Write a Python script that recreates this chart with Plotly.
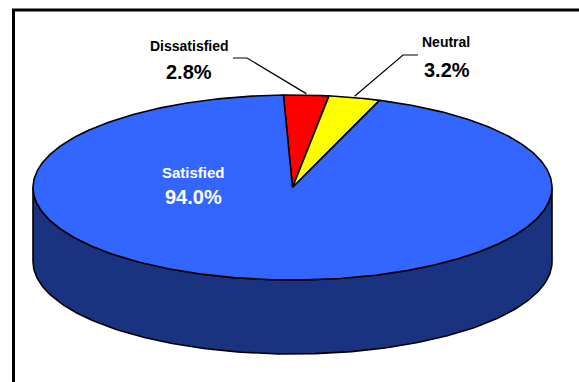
import numpy as np
import plotly.graph_objects as go

# Survey answers and their shares (percent)
categories = ["Dissatisfied", "Neutral", "Satisfied"]
shares = [2.8, 3.2, 94.0]
value_labels = ["2.8%", "3.2%", "94.0%"]

# Fill colours: top face and darker side wall of each slice
top_colors = ["#FF0000", "#FFFF00", "#3366FF"]
side_colors = ["#800000", "#808000", "#1A3380"]

# Pixel geometry of the tilted disc (axes are mapped 1:1 to pixels)
W, H = 579, 382
CX, CY = 292.5, 187.5
RX, RY = 259.5, 92.5
DEPTH = 74
START_DEG = -2.0  # first slice angle, clockwise from 12 o'clock

# Label placement: name, value, and optional leader line elbow/end
label_pos = {
    "Dissatisfied": dict(name=(189, 46), value=(189, 72), elbow=(247, 58), end=(233, 58), color="black"),
    "Neutral": dict(name=(446, 42), value=(447, 70), elbow=(403, 55), end=(418, 55), color="black"),
    "Satisfied": dict(name=(193, 172), value=(193, 197), elbow=None, end=None, color="white"),
}


def rim(theta_deg, drop=0.0):
    t = np.radians(theta_deg)
    return CX + RX * np.sin(t), CY - RY * np.cos(t) + drop


fig = go.Figure()

# slice angle intervals
total = sum(shares)
bounds = []
a = START_DEG
for s in shares:
    b = a + 360.0 * s / total
    bounds.append((a, b))
    a = b

outline = dict(color="black", width=1.6)

# side wall: only the front half (90..270 deg) is visible
for (a0, b0), col in zip(bounds, side_colors):
    for shift in (-360, 0, 360):
        lo = max(a0 + shift, 90)
        hi = min(b0 + shift, 270)
        if hi <= lo:
            continue
        th = np.linspace(lo, hi, 200)
        xt, yt = rim(th)
        xb, yb = rim(th[::-1], DEPTH)
        xs = np.concatenate([xt, xb, xt[:1]])
        ys = np.concatenate([yt, yb, yt[:1]])
        fig.add_trace(go.Scatter(x=xs, y=ys, mode="lines", fill="toself",
                                 fillcolor=col, line=outline, hoverinfo="skip"))

# top face slices
for (a0, b0), col in zip(bounds, top_colors):
    th = np.linspace(a0, b0, max(8, int((b0 - a0) * 2)))
    xa, ya = rim(th)
    xs = np.concatenate([[CX], xa, [CX]])
    ys = np.concatenate([[CY], ya, [CY]])
    fig.add_trace(go.Scatter(x=xs, y=ys, mode="lines", fill="toself",
                             fillcolor=col, line=outline, hoverinfo="skip"))

# leader lines and labels
annotations = []
for cat, vl, (a0, b0) in zip(categories, value_labels, bounds):
    p = label_pos[cat]
    if p["elbow"] is not None:
        mx, my = rim((a0 + b0) / 2, -1.5)
        fig.add_trace(go.Scatter(x=[mx, p["elbow"][0], p["end"][0]],
                                 y=[my, p["elbow"][1], p["end"][1]],
                                 mode="lines", line=dict(color="black", width=1.2),
                                 hoverinfo="skip"))
    name_size = 15 if cat == "Satisfied" else 14
    annotations.append(dict(x=p["name"][0], y=p["name"][1], text=cat, showarrow=False,
                            xanchor="center", yanchor="middle",
                            font=dict(family="Liberation Sans, Arial", size=name_size,
                                      color=p["color"], weight="bold")))
    annotations.append(dict(x=p["value"][0], y=p["value"][1], text=vl, showarrow=False,
                            xanchor="center", yanchor="middle",
                            font=dict(family="Liberation Sans, Arial", size=20,
                                      color=p["color"], weight="bold")))

# chart frame (top and left edges)
shapes = [
    dict(type="line", x0=12, x1=W, y0=10, y1=10, line=dict(color="black", width=3)),
    dict(type="line", x0=13.5, x1=13.5, y0=9, y1=H, line=dict(color="black", width=3)),
]

fig.update_layout(
    width=W, height=H,
    margin=dict(l=0, r=0, t=0, b=0),
    paper_bgcolor="white", plot_bgcolor="white",
    showlegend=False,
    xaxis=dict(range=[0, W], visible=False, fixedrange=True),
    yaxis=dict(range=[H, 0], visible=False, fixedrange=True),
    annotations=annotations,
    shapes=shapes,
)

fig.write_html("out.html")
